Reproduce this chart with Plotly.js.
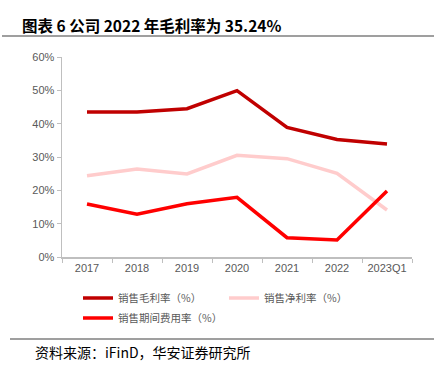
<!DOCTYPE html>
<html><head><meta charset="utf-8">
<script src="https://cdn.plot.ly/plotly-3.0.1.min.js"></script>
<style>body{margin:0;padding:0;background:#fff}#c{width:438px;height:369px}</style>
</head><body><div id="c"></div>
<script>
const categories = ['2017','2018','2019','2020','2021','2022','2023Q1'];
const grossMargin = [43.5, 43.5, 44.5, 49.9, 38.9, 35.24, 33.9];
const netMargin = [24.4, 26.4, 24.9, 30.5, 29.5, 25.1, 14.1];
const expenseRate = [15.9, 12.8, 16.0, 17.9, 5.8, 5.1, 19.8];
const seriesNames = ['销售毛利率（%）', '销售净利率（%）', '销售期间费用率（%）'];
const yTickVals = [0, 10, 20, 30, 40, 50, 60];
const yTickText = ['0%', '10%', '20%', '30%', '40%', '50%', '60%'];

const W = 438, H = 369;
const m = {l: 62, r: 26, t: 57, b: 112};
const pw = W - m.l - m.r, ph = H - m.t - m.b;
const px = x => (x - m.l) / pw;
const py = y => (H - m.b - y) / ph;

const cjk = '"Noto Sans CJK SC", "Noto Sans", sans-serif';
const mk = (y, name, color, lg) => ({
  x: categories, y: y, name: name, type: 'scatter', mode: 'lines',
  line: {color: color, width: 3.5}, hoverinfo: 'skip', legend: lg
});
const data = [
  mk(grossMargin, seriesNames[0], '#C00000', 'legend'),
  mk(netMargin, seriesNames[1], '#FFCCCC', 'legend2'),
  mk(expenseRate, seriesNames[2], '#FF0000', 'legend3')
];
const lg = (x, y) => ({
  orientation: 'h', x: px(x), y: py(y), xanchor: 'left', yanchor: 'middle',
  font: {family: cjk, size: 10.5, color: '#595959'}, bgcolor: 'rgba(0,0,0,0)', borderwidth: 0
});
const layout = {
  width: W, height: H, margin: m,
  paper_bgcolor: '#fff', plot_bgcolor: '#fff',
  showlegend: true,
  font: {family: 'Arial, "Liberation Sans", sans-serif', color: '#595959', size: 11},
  xaxis: {
    type: 'category', showgrid: false, zeroline: false,
    showline: true, linecolor: '#BFBFBF', linewidth: 1.5,
    ticks: 'outside', tickson: 'boundaries', ticklen: 4, tickcolor: '#BFBFBF',
    tickfont: {size: 11, color: '#595959'}, range: [-0.5, 6.5]
  },
  yaxis: {
    range: [0, 60], tickvals: yTickVals, ticktext: yTickText,
    showgrid: false, zeroline: false,
    showline: true, linecolor: '#BFBFBF', linewidth: 1.5,
    ticks: 'outside', ticklen: 4, tickcolor: '#BFBFBF',
    tickfont: {size: 11, color: '#595959'}
  },
  legend: lg(78, 298),
  legend2: lg(224, 298),
  legend3: lg(78, 318),
  shapes: [
    {type: 'line', xref: 'paper', yref: 'paper', x0: px(2), x1: px(434), y0: py(36), y1: py(36), line: {color: '#404040', width: 1.2}},
    {type: 'line', xref: 'paper', yref: 'paper', x0: px(10), x1: px(434), y0: py(339), y1: py(339), line: {color: '#404040', width: 1.2}}
  ],
  annotations: [
    {text: '<b>图表 6 公司 2022 年毛利率为 35.24%</b>', xref: 'paper', yref: 'paper', x: px(20), y: py(25), xanchor: 'left', yanchor: 'middle', showarrow: false, font: {family: cjk, size: 15.5, color: '#000'}},
    {text: '资料来源：iFinD，华安证券研究所', xref: 'paper', yref: 'paper', x: px(33), y: py(352), xanchor: 'left', yanchor: 'middle', showarrow: false, font: {family: cjk, size: 14, color: '#000'}}
  ]
};
Plotly.newPlot('c', data, layout, {displayModeBar: false, staticPlot: true});
</script></body></html>
